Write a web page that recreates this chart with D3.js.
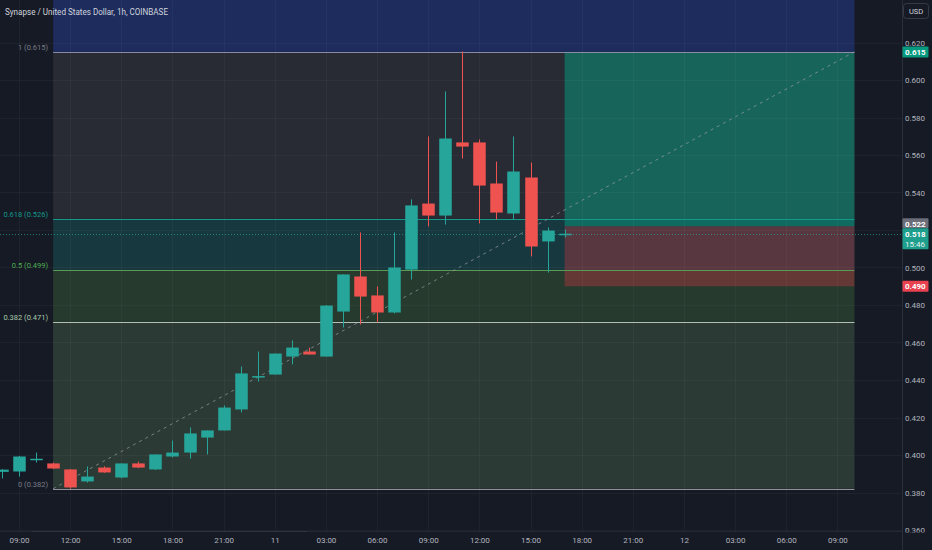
<!DOCTYPE html>
<html><head><meta charset="utf-8">
<script src="https://cdn.jsdelivr.net/npm/d3@7"></script>
<style>
html,body{margin:0;padding:0;background:#161a25;overflow:hidden}
svg{display:block;font-family:Roboto,"Noto Sans",sans-serif}
</style>
</head><body>
<svg id="c" width="932" height="550"></svg>
<script>
// ---------- data ----------
const title = "Synapse / United States Dollar, 1h, COINBASE";
const candleTimes = [
 "2024-06-10 08:00","2024-06-10 09:00","2024-06-10 10:00","2024-06-10 11:00","2024-06-10 12:00",
 "2024-06-10 13:00","2024-06-10 14:00","2024-06-10 15:00","2024-06-10 16:00","2024-06-10 17:00",
 "2024-06-10 18:00","2024-06-10 19:00","2024-06-10 20:00","2024-06-10 21:00","2024-06-10 22:00",
 "2024-06-10 23:00","2024-06-11 00:00","2024-06-11 01:00","2024-06-11 02:00","2024-06-11 03:00",
 "2024-06-11 04:00","2024-06-11 05:00","2024-06-11 06:00","2024-06-11 07:00","2024-06-11 08:00",
 "2024-06-11 09:00","2024-06-11 10:00","2024-06-11 11:00","2024-06-11 12:00","2024-06-11 13:00",
 "2024-06-11 14:00","2024-06-11 15:00","2024-06-11 16:00","2024-06-11 17:00"];
const opens  = [0.3910,0.3912,0.3978,0.3955,0.3923,0.3859,0.3933,0.3880,0.3955,0.3923,0.3992,0.4013,0.4093,0.4131,0.4243,0.4419,0.4429,0.4525,0.4552,0.4525,0.4765,0.4952,0.4851,0.4760,0.4989,0.5341,0.5277,0.5667,0.5667,0.5448,0.5288,0.5480,0.5139,0.5175];
const highs  = [0.3925,0.3995,0.4013,0.3960,0.3925,0.3939,0.3940,0.3955,0.3965,0.4003,0.4077,0.4147,0.4131,0.4264,0.4472,0.4552,0.4541,0.4611,0.4573,0.4800,0.4963,0.5187,0.4899,0.5187,0.5363,0.5699,0.5939,0.6152,0.5683,0.5565,0.5699,0.5560,0.5213,0.5203];
const lows   = [0.3875,0.3885,0.3960,0.3925,0.3820,0.3853,0.3905,0.3875,0.3930,0.3920,0.3987,0.3981,0.4003,0.4131,0.4227,0.4392,0.4429,0.4483,0.4536,0.4525,0.4680,0.4696,0.4707,0.4755,0.4936,0.5219,0.5229,0.5581,0.5235,0.5256,0.5256,0.5059,0.4973,0.5160];
const closes = [0.3922,0.3992,0.3980,0.3928,0.3827,0.3885,0.3907,0.3955,0.3933,0.4003,0.4013,0.4115,0.4131,0.4253,0.4435,0.4421,0.4541,0.4573,0.4536,0.4797,0.4963,0.4845,0.4760,0.5000,0.5331,0.5277,0.5688,0.5645,0.5437,0.5293,0.5512,0.5112,0.5197,0.5180];

const priceTicks = [0.36,0.38,0.40,0.42,0.44,0.46,0.48,0.50,0.52,0.54,0.56,0.58,0.60,0.62];
const timeTicks = ["2024-06-10 09:00","2024-06-10 12:00","2024-06-10 15:00","2024-06-10 18:00","2024-06-10 21:00",
 "2024-06-11 00:00","2024-06-11 03:00","2024-06-11 06:00","2024-06-11 09:00","2024-06-11 12:00","2024-06-11 15:00",
 "2024-06-11 18:00","2024-06-11 21:00","2024-06-12 00:00","2024-06-12 03:00","2024-06-12 06:00","2024-06-12 09:00"];
const timeTickLabels = ["09:00","12:00","15:00","18:00","21:00","11","03:00","06:00","09:00","12:00","15:00",
 "18:00","21:00","12","03:00","06:00","09:00"];

// Fibonacci retracement
const fibStartTime = "2024-06-10 11:00", fibEndTime = "2024-06-12 10:00";
const fibLowPrice = 0.382, fibHighPrice = 0.615;
const fibRatios = [0, 0.382, 0.5, 0.618, 1, 1.618];
const fibLabels = ["0 (0.382)","0.382 (0.471)","0.5 (0.499)","0.618 (0.526)","1 (0.615)"];

// Long position
const posStartTime = "2024-06-11 17:00", posEndTime = "2024-06-12 10:00";
const entryPrice = 0.522, targetPrice = 0.615, stopPrice = 0.490;
const lastPrice = 0.518, countdown = "15:46";

// ---------- style ----------
const W = 932, H = 550, plotR = 902, plotB = 531;
const UP = "#26a69a", DOWN = "#ef5350";
const fibFill = ["#2c3a35","#263a2e","#17383e","#282a34","#1d2c5c"];
const fibLine = ["#8f929b","#b4bfb5","#5a9a57","#14998a","#8a8ca6"];
const fibText = ["#787b86","#a9c9ab","#4caf50","#14998a","#787b86"];

const parse = d3.timeParse("%Y-%m-%d %H:%M");
const svg = d3.select("#c");

const x = d3.scaleTime()
  .domain([parse("2024-06-10 09:00"), parse("2024-06-12 12:00")])
  .range([19, 19 + 51 * 17.05]);
const y = d3.scaleLinear().domain([0.36, 0.62]).range([530, 42.5]);

svg.append("rect").attr("width", W).attr("height", H).attr("fill", "#161a25");

const defs = svg.append("defs");
defs.append("clipPath").attr("id", "plot")
  .append("rect").attr("x", 0).attr("y", 0).attr("width", plotR).attr("height", plotB);
defs.append("clipPath").attr("id", "raxis")
  .append("rect").attr("x", -2).attr("y", 0).attr("width", 40).attr("height", 532.5);
const P = svg.append("g").attr("clip-path", "url(#plot)");

// fib fills
const fx0 = x(parse(fibStartTime)), fx1 = x(parse(fibEndTime));
const fibPrice = r => fibLowPrice + r * (fibHighPrice - fibLowPrice);
for (let i = 0; i < fibRatios.length - 1; i++) {
  const yTop = Math.max(y(fibPrice(fibRatios[i + 1])), -5), yBot = y(fibPrice(fibRatios[i]));
  P.append("rect").attr("x", fx0).attr("width", fx1 - fx0)
    .attr("y", yTop).attr("height", yBot - yTop).attr("fill", fibFill[i]);
}

// long position
const px0 = x(parse(posStartTime)), px1 = x(parse(posEndTime));
P.append("rect").attr("x", px0).attr("width", px1 - px0)
  .attr("y", y(targetPrice)).attr("height", y(entryPrice) - y(targetPrice))
  .attr("fill", "rgba(8,153,129,0.52)");
P.append("rect").attr("x", px0).attr("width", px1 - px0)
  .attr("y", y(entryPrice)).attr("height", y(stopPrice) - y(entryPrice))
  .attr("fill", "rgba(242,54,69,0.3)");

// grid
P.selectAll(".vg").data(timeTicks).join("line")
  .attr("x1", d => Math.round(x(parse(d))) + 0.5).attr("x2", d => Math.round(x(parse(d))) + 0.5)
  .attr("y1", 0).attr("y2", plotB).attr("stroke", "rgba(255,255,255,0.035)");
P.selectAll(".hg").data(priceTicks).join("line")
  .attr("y1", d => Math.round(y(d)) + 0.5).attr("y2", d => Math.round(y(d)) + 0.5)
  .attr("x1", 0).attr("x2", plotR).attr("stroke", "rgba(255,255,255,0.035)");

// fib lines + labels
for (let i = 0; i < fibRatios.length - 1; i++) {
  const yy = Math.round(y(fibPrice(fibRatios[i]))) + 0.5;
  P.append("line").attr("x1", fx0).attr("x2", fx1).attr("y1", yy).attr("y2", yy)
    .attr("stroke", fibLine[i]).attr("stroke-width", 1);
  P.append("text").attr("x", fx0 - 5).attr("y", yy - 3).attr("text-anchor", "end")
    .attr("font-size", 7.5).attr("fill", fibText[i]).text(fibLabels[i]);
}

// fib trend line (dashed)
P.append("line").attr("x1", fx0).attr("y1", y(fibLowPrice)).attr("x2", fx1).attr("y2", y(fibHighPrice))
  .attr("stroke", "#9a9ca5").attr("stroke-opacity", 0.7).attr("stroke-dasharray", "3,4");

// last price dotted line
P.append("line").attr("x1", 0).attr("x2", plotR)
  .attr("y1", Math.round(y(lastPrice)) + 0.5).attr("y2", Math.round(y(lastPrice)) + 0.5)
  .attr("stroke", UP).attr("stroke-opacity", 0.7).attr("stroke-dasharray", "1,2");

// candles
const candles = candleTimes.map((t, i) => ({t: parse(t), o: opens[i], h: highs[i], l: lows[i], c: closes[i]}));
const bw = 12.5;
const cg = P.selectAll(".cd").data(candles).join("g");
cg.append("line")
  .attr("x1", d => Math.round(x(d.t)) + 0.5).attr("x2", d => Math.round(x(d.t)) + 0.5)
  .attr("y1", d => y(d.h)).attr("y2", d => y(d.l))
  .attr("stroke", d => d.c >= d.o ? UP : DOWN).attr("stroke-width", 1);
cg.append("rect")
  .attr("x", d => Math.round(x(d.t)) + 0.5 - bw / 2).attr("width", bw)
  .attr("y", d => y(Math.max(d.o, d.c)))
  .attr("height", d => Math.max(1.5, Math.abs(y(d.o) - y(d.c))))
  .attr("fill", d => d.c >= d.o ? UP : DOWN);

// title
svg.append("text").attr("x", 5).attr("y", 15).attr("font-size", 9.5).attr("fill", "#d1d4dc")
  .attr("textLength", 163).attr("lengthAdjust", "spacingAndGlyphs").text(title);

// separators
svg.append("line").attr("x1", plotR + 0.5).attr("x2", plotR + 0.5).attr("y1", 0).attr("y2", H)
  .attr("stroke", "#2a2e39");
svg.append("line").attr("x1", 0).attr("x2", plotR).attr("y1", plotB + 0.5).attr("y2", plotB + 0.5)
  .attr("stroke", "#232733");
svg.append("line").attr("x1", 32).attr("x2", 307).attr("y1", plotB + 0.5).attr("y2", plotB + 0.5)
  .attr("stroke", "#2e3340");

// axes (price ticks hidden under the price label boxes are not labelled)
const boxPrices = [targetPrice, entryPrice, lastPrice, stopPrice];
const labelTicks = priceTicks.filter(p => boxPrices.every(b => Math.abs(y(p) - y(b)) > 8) || p === 0.62);
const ra = svg.append("g").attr("transform", `translate(${plotR},0)`).attr("clip-path", "url(#raxis)")
  .call(d3.axisRight(y).tickValues(labelTicks).tickSize(0).tickPadding(3).tickFormat(d3.format(".3f")));
ra.select(".domain").remove();
ra.selectAll("text").attr("font-size", 8).attr("fill", "#b2b5be").attr("font-family", "Roboto, sans-serif");

const ba = svg.append("g").attr("transform", `translate(0,${plotB})`)
  .call(d3.axisBottom(x).tickValues(timeTicks.map(parse)).tickSize(0).tickPadding(6)
    .tickFormat((d, i) => timeTickLabels[i]));
ba.select(".domain").remove();
ba.selectAll("text").attr("font-size", 8).attr("fill", "#b2b5be").attr("font-family", "Roboto, sans-serif");

// USD box
svg.append("rect").attr("x", 903.5).attr("y", 3.5).attr("width", 25).attr("height", 15).attr("rx", 3)
  .attr("fill", "#161a25").attr("stroke", "#363a45");
svg.append("text").attr("x", 916).attr("y", 14).attr("text-anchor", "middle").attr("font-size", 7.5)
  .attr("fill", "#d1d4dc").text("USD");

// price labels
function priceBox(top, h, color, price, extra) {
  svg.append("rect").attr("x", plotR + 0.5).attr("y", top).attr("width", 26).attr("height", h)
    .attr("fill", color).attr("rx", 1);
  svg.append("text").attr("x", plotR + 3).attr("y", top + 8.5).attr("font-size", 8).attr("font-weight", "bold")
    .attr("fill", "#ffffff").text(d3.format(".3f")(price));
  if (extra) svg.append("text").attr("x", plotR + 3).attr("y", top + 18.5).attr("font-size", 8)
    .attr("fill", "#e8f5f2").text(extra);
}
priceBox(y(targetPrice) - 5.5, 11, "#089981", targetPrice);
priceBox(y(lastPrice) - 15.5, 10, "#6b6e79", entryPrice);
priceBox(y(lastPrice) - 5.5, 21, "#1e9e8c", lastPrice, countdown);
priceBox(y(stopPrice) - 5.5, 11, "#e8414f", stopPrice);
</script>
</body></html>
